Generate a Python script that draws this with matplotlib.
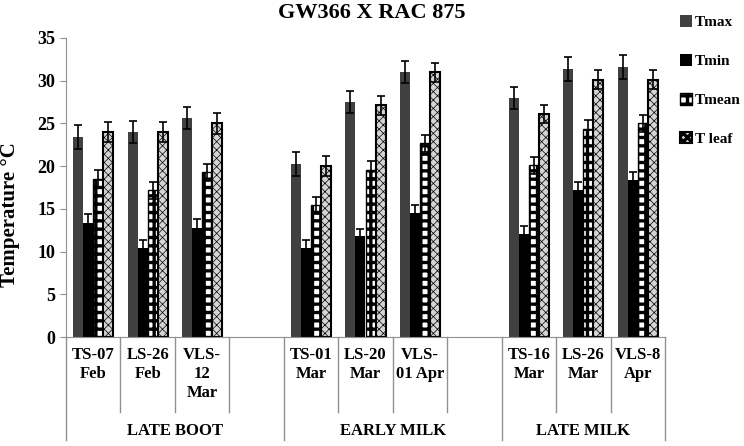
import matplotlib.pyplot as plt
import numpy as np

plt.rcParams['font.family'] = ['Liberation Serif', 'DejaVu Serif']
plt.rcParams['font.weight'] = 'bold'
plt.rcParams['hatch.linewidth'] = 2.4

stages = ["LATE BOOT", "EARLY MILK", "LATE MILK"]
dates = ["TS-07\nFeb", "LS-26\nFeb", "VLS-\n12\nMar",
         "TS-01\nMar", "LS-20\nMar", "VLS-\n01 Apr",
         "TS-16\nMar", "LS-26\nMar", "VLS-8\nApr"]

tmax = [23.4, 24.0, 25.6, 20.2, 27.5, 31.0, 28.0, 31.4, 31.6]
tmin = [13.4, 10.4, 12.8, 10.4, 11.8, 14.5, 12.1, 17.2, 18.4]
tmean = [18.5, 17.2, 19.3, 15.4, 19.6, 22.7, 20.1, 24.4, 25.0]
tleaf = [24.0, 24.0, 25.0, 20.0, 27.1, 31.0, 26.1, 30.1, 30.1]

tmax_err = [1.4, 1.3, 1.3, 1.4, 1.3, 1.3, 1.3, 1.4, 1.4]
tmin_err = [1.0, 1.0, 1.0, 0.9, 0.9, 0.9, 0.9, 0.9, 0.9]
tmean_err = [1.0, 1.0, 1.0, 1.0, 1.0, 1.0, 1.0, 1.0, 1.0]
tleaf_err = [1.2, 1.2, 1.2, 1.2, 1.1, 1.1, 1.1, 1.1, 1.1]

# slot index of each date (one empty slot between stages)
slots = np.array([0, 1, 2, 4, 5, 6, 8, 9, 10])

fig = plt.figure(figsize=(7.44, 4.46), dpi=100)
ax = fig.add_axes([66 / 744, 109 / 446, 599 / 744, 299 / 446])

w = 0.185
series = [
    ("Tmax", tmax, tmax_err, dict(color="#404040"), None),
    ("Tmin", tmin, tmin_err, dict(color="black"), None),
    ("Tmean", tmean, tmean_err, dict(facecolor="white", edgecolor="black", hatch="++", linewidth=1.0), 2.4),
    ("T leaf", tleaf, tleaf_err, dict(facecolor="#d4d4d4", edgecolor="black", hatch="xxxx", linewidth=1.5), 0.5),
]
for i, (name, vals, err, style, hlw) in enumerate(series):
    bars = ax.bar(slots + (i - 1.5) * w, vals, w, label=name,
                  yerr=err, error_kw=dict(ecolor="black", capsize=3, elinewidth=1.2, capthick=1.2),
                  **style)
    if hlw is not None:
        for b in bars:
            if hasattr(b, "set_hatch_linewidth"):
                b.set_hatch_linewidth(hlw)

ax.set_xlim(-0.5, 10.5)
ax.set_ylim(0, 35)
ax.set_yticks(range(0, 36, 5))
ax.tick_params(axis="y", labelsize=13, length=4, color="#909090")
ax.set_xticks([])
for s in ["top", "right"]:
    ax.spines[s].set_visible(False)
for s in ["left", "bottom"]:
    ax.spines[s].set_color("#909090")
ax.set_ylabel("Temperature °C", fontsize=15, fontweight="bold")
ax.yaxis.set_label_coords(-0.077, 0.41)
fig.text(372 / 744, 1 - 13 / 446, "GW366 X RAC 875", fontsize=16, fontweight="bold",
         ha="center", va="center")

trans = ax.get_xaxis_transform()
for x, txt in zip(slots, dates):
    ax.text(x, -0.035, txt, transform=trans, ha="center", va="top",
            fontsize=12, fontweight="bold", linespacing=1.25)

long_lines = [-0.5, 3.5, 7.5, 10.5]
short_lines = [0.5, 1.5, 2.5, 4.5, 5.5, 6.5, 8.5, 9.5]
for x in long_lines:
    ax.plot([x, x], [0, -0.345], transform=trans, color="#909090", lw=1, clip_on=False)
for x in short_lines:
    ax.plot([x, x], [0, -0.25], transform=trans, color="#909090", lw=1, clip_on=False)

stage_centers = [1.5, 5.5, 9.0]
for x, txt in zip(stage_centers, stages):
    ax.text(x, -0.315, txt, transform=trans, ha="center", va="center",
            fontsize=12, fontweight="bold")

leg = fig.legend(loc="upper left", bbox_to_anchor=(666 / 744, 0.997), frameon=False,
                 fontsize=11, handlelength=0.8, handleheight=0.8,
                 handletextpad=0.2, labelspacing=1.62)
for t in leg.get_texts():
    t.set_fontweight("bold")

fig.savefig("out.png", dpi=100)
